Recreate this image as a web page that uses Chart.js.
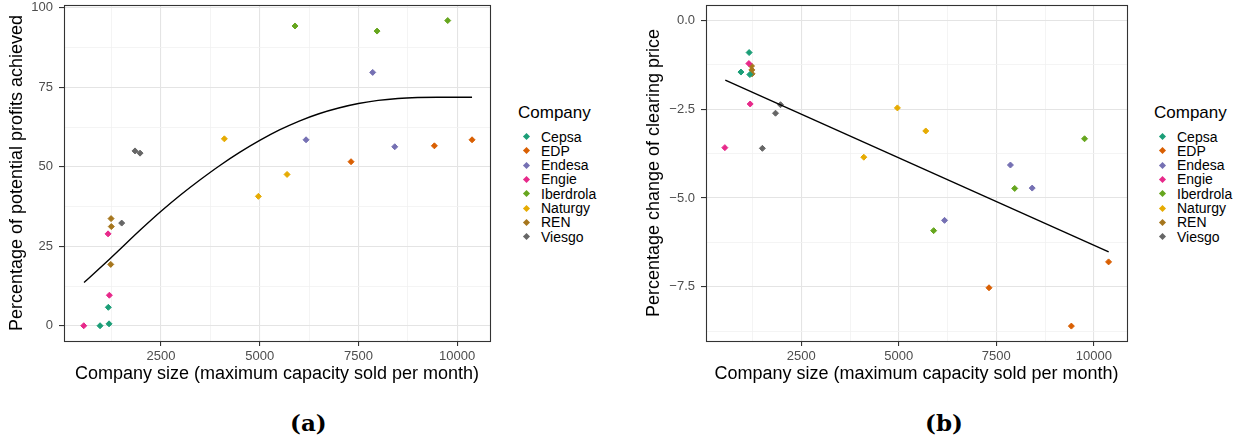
<!DOCTYPE html>
<html>
<head>
<meta charset="utf-8">
<script src="https://cdn.jsdelivr.net/npm/chart.js@4.4.1/dist/chart.umd.min.js"></script>
<style>
  body { margin: 0; width: 1245px; height: 444px; background: #fff; position: relative; overflow: hidden;
         font-family: "Liberation Sans", Arial, sans-serif; }
  canvas { position: absolute; top: 0; }
  #chartA { left: 0; }
  #chartB { left: 640px; }
  .legend { position: absolute; top: 103px; }
  .legend .title { font-size: 17px; line-height: 20px; color: #000; margin-bottom: 6.5px; }
  .legend .row { position: relative; font-size: 14px; height: 14.3px; line-height: 14.3px; padding-left: 23px; color: #000; }
  .legend .key { position: absolute; left: 5.5px; top: 4.6px; width: 5px; height: 5px; transform: rotate(45deg); }
  .caption { position: absolute; top: 409px; font-family: "DejaVu Serif", serif; font-weight: bold; font-size: 23px; }
</style>
</head>
<body>
<canvas id="chartA" width="500" height="395"></canvas>
<canvas id="chartB" width="500" height="395"></canvas>
<div class="legend" id="legendA" style="left:518px"></div>
<div class="legend" id="legendB" style="left:1154px"></div>
<div class="caption" style="left:290px">(a)</div>
<div class="caption" style="left:925px">(b)</div>
<script>
// companies and colours (Dark2)
const companies = ['Cepsa', 'EDP', 'Endesa', 'Engie', 'Iberdrola', 'Naturgy', 'REN', 'Viesgo'];
const colours = ['#1B9E77', '#D95F02', '#7570B3', '#E7298A', '#66A61E', '#E6AB02', '#A6761D', '#666666'];

// company size (maximum capacity sold per month), three observations each
const sizeX = [
  [955, 1165, 1183],
  [7313, 9424, 10378],
  [6173, 7862, 8420],
  [542, 1158, 1191],
  [5894, 7972, 9762],
  [4104, 4965, 5692],
  [1226, 1234, 1240],
  [1504, 1841, 1968]
];

// (a) percentage of potential profits achieved
const profitY = [
  [0.0, 5.8, 0.6],
  [51.6, 56.6, 58.5],
  [58.5, 79.7, 56.3],
  [0.0, 28.9, 9.6],
  [94.3, 92.7, 96.0],
  [58.8, 40.7, 47.6],
  [19.3, 33.7, 31.2],
  [32.3, 55.0, 54.3]
];

// (b) percentage change of clearing price
const priceY = [
  [-1.45, -0.90, -1.52],
  [-7.53, -8.61, -6.80],
  [-5.63, -4.07, -4.72],
  [-3.58, -1.21, -2.35],
  [-5.92, -4.73, -3.33],
  [-3.85, -2.46, -3.11],
  [-1.28, -1.39, -1.50],
  [-3.60, -2.61, -2.37]
];

// fitted curve in (a)
const fitX = [550, 1200, 2000, 2500, 3000, 3500, 4000, 4500, 5000, 5500, 6000, 6500, 7000, 7500, 8000, 8500, 9000, 9500, 10000, 10378];
const fitY = [13.6, 21.0, 30.4, 36.0, 41.2, 46.0, 50.5, 54.6, 58.3, 61.6, 64.4, 66.7, 68.5, 69.9, 70.9, 71.5, 71.8, 71.9, 71.9, 71.9];

// fitted line in (b)
const lineX = [553, 10380];
const lineY = [-1.68, -6.52];

// ticks
const xGrid = [1250, 2500, 3750, 5000, 6250, 7500, 8750, 10000];
const xLabels = [2500, 5000, 7500, 10000];
const yGridA = [0, 12.5, 25, 37.5, 50, 62.5, 75, 87.5, 100];
const yLabelsA = [0, 25, 50, 75, 100];
const yGridB = [0, -1.25, -2.5, -3.75, -5, -6.25, -7.5, -8.75];
const yLabelsB = [0, -2.5, -5, -7.5];

const panelBorder = {
  id: 'panelBorder',
  afterDraw(chart) {
    const { ctx, chartArea: a } = chart;
    ctx.save();
    ctx.strokeStyle = '#333333';
    ctx.lineWidth = 1.1;
    ctx.strokeRect(Math.round(a.left) + 0.5, Math.round(a.top) + 0.5, Math.round(a.right - a.left), Math.round(a.bottom - a.top));
    ctx.restore();
  }
};

function gridOpts(labels) {
  return {
    color: c => labels.includes(c.tick.value) ? '#e4e4e4' : '#f1f1f1',
    lineWidth: c => labels.includes(c.tick.value) ? 1.1 : 0.8,
    tickColor: c => labels.includes(c.tick.value) ? '#333333' : 'rgba(0,0,0,0)',
    tickLength: 5,
    drawTicks: true
  };
}

function noPad(s) {
  s.paddingTop = 0; s.paddingBottom = 0; s.paddingLeft = 0; s.paddingRight = 0;
}

function makeChart(id, ys, fx, fy, cfg) {
  const datasets = companies.map((name, i) => ({
    label: name,
    data: sizeX[i].map((x, j) => ({ x: x, y: ys[i][j] })),
    pointStyle: 'rectRot',
    pointRadius: 3,
    backgroundColor: colours[i],
    borderColor: colours[i],
    borderWidth: 1
  }));
  datasets.push({
    label: 'fit',
    data: fx.map((x, j) => ({ x: x, y: fy[j] })),
    showLine: true,
    pointRadius: 0,
    borderColor: '#000000',
    borderWidth: 1.4,
    cubicInterpolationMode: 'monotone',
    order: -1
  });

  return new Chart(document.getElementById(id), {
    type: 'scatter',
    data: { datasets: datasets },
    plugins: [panelBorder],
    options: {
      responsive: false,
      animation: false,
      devicePixelRatio: 1,
      layout: { padding: { top: 4, right: cfg.padRight, left: 0, bottom: 0 } },
      plugins: { legend: { display: false }, tooltip: { enabled: false } },
      scales: {
        x: {
          type: 'linear',
          min: cfg.xMin,
          max: cfg.xMax,
          afterBuildTicks: s => { s.ticks = xGrid.map(v => ({ value: v })); },
          afterFit: s => { s.height = 54; noPad(s); },
          ticks: {
            autoSkip: false, maxRotation: 0, padding: 3,
            color: '#4d4d4d', font: { family: 'Liberation Sans', size: 13 },
            callback: v => xLabels.includes(v) ? String(v) : ''
          },
          grid: gridOpts(xLabels),
          border: { display: false },
          title: {
            display: true, text: 'Company size (maximum capacity sold per month)',
            color: '#000', font: { family: 'Liberation Sans', size: 18 },
            padding: { top: 0, bottom: 10 }
          }
        },
        y: {
          type: 'linear',
          min: cfg.yMin,
          max: cfg.yMax,
          afterBuildTicks: s => { s.ticks = cfg.yGrid.map(v => ({ value: v })); },
          afterFit: s => { s.width = cfg.yWidth; noPad(s); },
          ticks: {
            autoSkip: false, padding: 6,
            color: '#4d4d4d', font: { family: 'Liberation Sans', size: 13 },
            callback: v => cfg.yLabels.includes(v) ? cfg.fmt(v) : ''
          },
          grid: gridOpts(cfg.yLabels),
          border: { display: false },
          title: {
            display: true, text: cfg.yTitle,
            color: '#000', font: { family: 'Liberation Sans', size: 18 },
            padding: { top: cfg.yTitlePad, bottom: 0 }
          }
        }
      }
    }
  });
}

makeChart('chartA', profitY, fitX, fitY, {
  xMin: 42, xMax: 10833, yMin: -4.8, yMax: 100.9,
  yGrid: yGridA, yLabels: yLabelsA, fmt: v => String(v),
  yTitle: 'Percentage of potential profits achieved',
  yWidth: 64, padRight: 10, yTitlePad: 6
});

makeChart('chartB', priceY, lineX, lineY, {
  xMin: 59, xMax: 10850, yMin: -9.03, yMax: 0.44,
  yGrid: yGridB, yLabels: yLabelsB, fmt: v => v.toFixed(1).replace('-', '\u2212'),
  yTitle: 'Percentage change of clearing price',
  yWidth: 66, padRight: 13, yTitlePad: 3
});

function buildLegend(id) {
  const box = document.getElementById(id);
  let html = '<div class="title">Company</div>';
  companies.forEach((name, i) => {
    html += '<div class="row"><span class="key" style="background:' + colours[i] + '"></span>' + name + '</div>';
  });
  box.innerHTML = html;
}
buildLegend('legendA');
buildLegend('legendB');
</script>
</body>
</html>
